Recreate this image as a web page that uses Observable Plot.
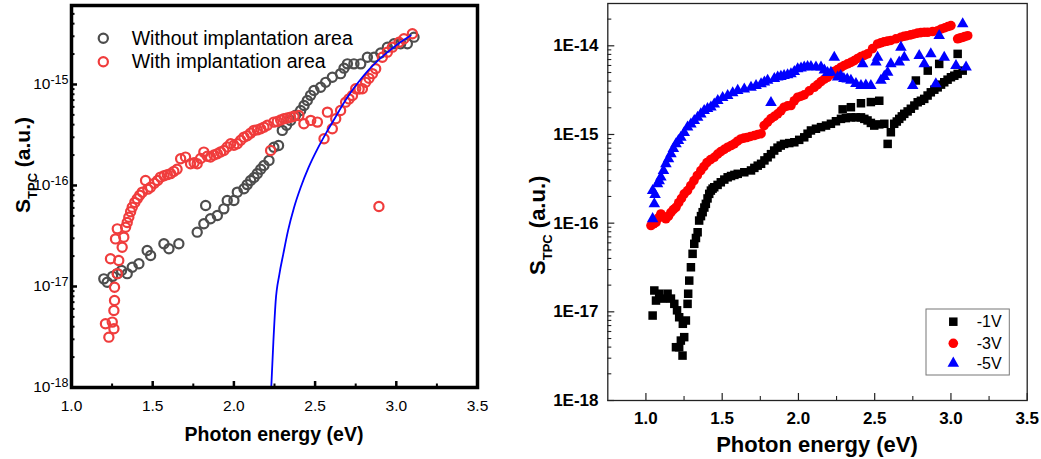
<!DOCTYPE html>
<html><head><meta charset="utf-8">
<script src="https://cdn.jsdelivr.net/npm/d3@7"></script>
<script src="https://cdn.jsdelivr.net/npm/@observablehq/plot@0.6"></script>
<style>
body{margin:0;background:#fff;}
#wrap{position:relative;width:1041px;height:459px;overflow:hidden;background:#fff;}
#left{position:absolute;left:0;top:0;}
#right{position:absolute;left:520px;top:0;}
svg text{white-space:pre;}
</style></head><body><div id="wrap"><div id="left"></div><div id="right"></div></div>
<script>
// ---------- Left panel data: [photon energy (eV), S_TPC (a.u.)] ----------
const withoutImplantation = [
[1.199,1.19e-17],[1.220,1.10e-17],[1.253,1.26e-17],[1.282,1.34e-17],[1.308,1.44e-17],[1.343,1.34e-17],
[1.374,1.55e-17],[1.415,1.68e-17],[1.466,2.27e-17],[1.487,2.03e-17],[1.569,2.65e-17],[1.600,2.36e-17],
[1.661,2.65e-17],[1.774,3.45e-17],[1.815,4.18e-17],[1.826,6.34e-17],[1.856,4.68e-17],[1.898,5.05e-17],
[1.938,5.87e-17],[1.959,7.10e-17],[2.000,7.10e-17],[2.021,8.59e-17],[2.062,9.27e-17],[2.082,1.02e-16],
[2.103,1.12e-16],[2.124,1.20e-16],[2.144,1.31e-16],[2.165,1.45e-16],[2.185,1.58e-16],[2.216,1.77e-16],
[2.246,2.39e-16],[2.275,2.49e-16],[2.298,3.51e-16],[2.324,3.95e-16],[2.349,4.41e-16],[2.380,4.95e-16],
[2.411,5.53e-16],[2.432,6.20e-16],[2.452,6.95e-16],[2.472,7.80e-16],[2.493,8.73e-16],[2.534,9.40e-16],
[2.565,1.05e-15],[2.606,1.18e-15],[2.657,1.28e-15],[2.678,1.45e-15],[2.699,1.60e-15],[2.739,1.60e-15],
[2.781,1.60e-15],[2.822,1.86e-15],[2.863,1.86e-15],[2.904,2.05e-15],[2.945,2.34e-15],[2.986,2.53e-15],
[3.027,2.53e-15],[3.068,2.53e-15],[3.109,2.94e-15]
];
const withImplantation = [
[1.209,4.28e-18],[1.230,3.15e-18],[1.251,4.44e-18],[1.261,3.81e-18],[1.261,5.78e-18],[1.265,7.26e-18],
[1.265,9.84e-18],[1.282,1.34e-17],[1.240,1.88e-17],[1.291,1.81e-17],[1.271,2.96e-17],[1.282,3.72e-17],
[1.312,2.45e-17],[1.322,3.08e-17],[1.333,3.86e-17],[1.343,4.30e-17],[1.353,4.85e-17],[1.364,5.50e-17],
[1.374,6.10e-17],[1.390,6.80e-17],[1.405,7.38e-17],[1.420,8.00e-17],[1.436,8.59e-17],[1.456,1.12e-16],
[1.470,9.20e-17],[1.487,9.62e-17],[1.510,1.05e-16],[1.530,1.12e-16],[1.548,1.21e-16],[1.570,1.25e-16],
[1.590,1.28e-16],[1.610,1.31e-16],[1.630,1.38e-16],[1.650,1.45e-16],[1.672,1.84e-16],[1.702,1.91e-16],
[1.733,1.64e-16],[1.755,1.68e-16],[1.774,1.64e-16],[1.795,1.85e-16],[1.815,2.14e-16],[1.836,1.95e-16],
[1.856,1.91e-16],[1.877,2.00e-16],[1.898,2.06e-16],[1.918,2.15e-16],[1.938,2.22e-16],[1.959,2.40e-16],
[1.980,2.59e-16],[2.000,2.50e-16],[2.021,2.59e-16],[2.042,2.80e-16],[2.062,3.01e-16],[2.082,3.10e-16],
[2.103,3.30e-16],[2.123,3.51e-16],[2.144,3.55e-16],[2.165,3.65e-16],[2.185,3.78e-16],[2.206,3.95e-16],
[2.226,2.22e-16],[2.246,4.24e-16],[2.267,4.30e-16],[2.288,4.45e-16],[2.308,4.57e-16],[2.329,4.65e-16],
[2.349,4.74e-16],[2.370,4.85e-16],[2.400,4.93e-16],[2.431,4.08e-16],[2.473,4.41e-16],[2.514,4.24e-16],
[2.555,2.90e-16],[2.576,5.32e-16],[2.606,3.64e-16],[2.627,4.57e-16],[2.657,5.53e-16],[2.688,6.68e-16],
[2.709,7.20e-16],[2.730,7.78e-16],[2.750,9.06e-16],[2.771,9.00e-16],[2.791,9.06e-16],[2.811,1.05e-15],
[2.832,1.15e-15],[2.853,1.28e-15],[2.873,1.43e-15],[2.893,6.19e-17],[2.914,1.86e-15],[2.945,2.09e-15],
[2.976,2.34e-15],[3.017,2.62e-15],[3.047,2.84e-15],[3.099,3.18e-15]
];
const fitCurve = [
[2.230,1.00e-18],[2.243,2.82e-18],[2.257,7.08e-18],[2.280,1.32e-17],[2.304,2.09e-17],[2.333,3.55e-17],
[2.370,6.03e-17],[2.411,9.55e-17],[2.460,1.51e-16],[2.514,2.29e-16],[2.565,3.24e-16],[2.616,4.47e-16],
[2.670,6.31e-16],[2.719,8.32e-16],[2.770,1.07e-15],[2.822,1.35e-15],[2.924,1.95e-15],[3.000,2.45e-15],
[3.089,3.05e-15]
];
const leftLegend = ["Without implantation area", "With implantation area"];
const leftXTicks = [1.0,1.5,2.0,2.5,3.0,3.5];
const leftXMinor = [1.25,1.75,2.25,2.75,3.25];
const leftYTicks = [1e-18,1e-17,1e-16,1e-15];
const leftYLabels = [["10","-18"],["10","-17"],["10","-16"],["10","-15"]];

// ---------- Right panel data ----------
const bias1V = [
[1.044,9.08e-18],[1.055,1.74e-17],[1.066,1.34e-17],[1.087,1.60e-17],[1.111,1.41e-17],[1.142,1.60e-17],
[1.164,1.41e-17],[1.186,1.23e-17],[1.204,1.04e-17],[1.218,8.69e-18],[1.197,3.99e-18],[1.218,3.99e-18],
[1.229,4.74e-18],[1.240,3.21e-18],[1.242,7.33e-18],[1.251,5.18e-18],[1.262,7.98e-18],[1.273,1.23e-17],
[1.277,1.60e-17],[1.284,2.25e-17],[1.295,3.18e-17],[1.306,4.51e-17],[1.317,5.85e-17],[1.328,6.80e-17],
[1.339,7.89e-17],[1.349,1.07e-16],[1.361,1.20e-16],[1.372,1.33e-16],[1.383,1.50e-16],[1.393,1.65e-16],
[1.404,1.90e-16],[1.415,2.14e-16],[1.426,2.33e-16],[1.437,2.45e-16],[1.448,2.54e-16],[1.470,2.70e-16],
[1.491,2.89e-16],[1.514,3.10e-16],[1.536,3.29e-16],[1.558,3.40e-16],[1.580,3.50e-16],[1.602,3.60e-16],
[1.645,3.75e-16],[1.689,3.93e-16],[1.711,4.20e-16],[1.733,4.45e-16],[1.755,4.67e-16],[1.777,5.10e-16],
[1.798,5.53e-16],[1.820,6.00e-16],[1.841,6.59e-16],[1.863,7.10e-16],[1.884,7.50e-16],[1.906,7.83e-16],
[1.940,8.00e-16],[1.973,8.17e-16],[2.005,8.70e-16],[2.038,9.29e-16],[2.060,1.02e-15],[2.082,1.11e-15],
[2.115,1.16e-15],[2.148,1.21e-15],[2.181,1.26e-15],[2.213,1.32e-15],[2.246,1.41e-15],[2.279,1.50e-15],
[2.311,1.53e-15],[2.344,1.56e-15],[2.377,1.56e-15],[2.410,1.56e-15],[2.432,1.50e-15],[2.453,1.44e-15],
[2.475,1.35e-15],[2.497,1.26e-15],[2.530,1.30e-15],[2.563,1.32e-15],[2.585,7.83e-16],[2.606,1.06e-15],
[2.628,1.32e-15],[2.645,1.40e-15],[2.661,1.50e-15],[2.678,1.60e-15],[2.694,1.71e-15],[2.716,1.82e-15],
[2.737,1.95e-15],[2.760,2.12e-15],[2.782,2.31e-15],[2.803,2.40e-15],[2.825,2.52e-15],[2.847,2.75e-15],
[2.868,2.99e-15],[2.891,3.20e-15],[2.913,3.40e-15],[2.935,3.65e-15],[2.956,3.88e-15],[2.978,4.15e-15],
[3.000,4.42e-15],[3.022,4.60e-15],[3.044,4.82e-15],[3.077,5.25e-15],
[2.290,1.92e-15],[2.344,2.03e-15],[2.410,2.25e-15],[2.475,2.32e-15],[2.530,2.40e-15],[2.770,4.06e-15],
[2.848,5.25e-15],[2.923,6.25e-15],[3.044,8.11e-15]
];
const bias3V = [
[1.033,9.40e-17],[1.050,9.80e-17],[1.066,1.02e-16],[1.082,1.15e-16],[1.098,1.27e-16],[1.115,1.18e-16],
[1.131,1.12e-16],[1.148,1.20e-16],[1.164,1.32e-16],[1.180,1.42e-16],[1.197,1.51e-16],[1.215,1.70e-16],
[1.233,1.90e-16],[1.251,2.14e-16],[1.273,2.33e-16],[1.294,2.65e-16],[1.315,3.02e-16],[1.337,3.45e-16],
[1.360,3.92e-16],[1.380,4.35e-16],[1.400,4.82e-16],[1.424,5.20e-16],[1.448,5.53e-16],[1.470,6.00e-16],
[1.491,6.41e-16],[1.514,6.80e-16],[1.536,7.18e-16],[1.558,7.50e-16],[1.579,7.83e-16],[1.600,8.40e-16],
[1.622,8.91e-16],[1.642,9.10e-16],[1.662,9.23e-16],[1.686,9.50e-16],[1.710,9.73e-16],[1.733,1.00e-15],
[1.755,1.02e-15],[1.775,1.26e-15],[1.798,1.38e-15],[1.820,1.51e-15],[1.842,1.60e-15],[1.864,1.71e-15],
[1.885,1.85e-15],[1.906,2.03e-15],[1.929,2.10e-15],[1.951,2.12e-15],[1.973,2.40e-15],[1.995,2.63e-15],
[2.017,2.70e-15],[2.038,2.80e-15],[2.071,3.10e-15],[2.104,3.41e-15],[2.126,3.65e-15],[2.148,3.95e-15],
[2.170,4.20e-15],[2.191,4.42e-15],[2.212,4.75e-15],[2.233,5.12e-15],[2.256,5.40e-15],[2.279,5.73e-15],
[2.300,6.00e-15],[2.322,6.25e-15],[2.344,6.50e-15],[2.366,6.81e-15],[2.388,7.20e-15],[2.410,7.55e-15],
[2.431,7.80e-15],[2.453,8.11e-15],[2.486,9.30e-15],[2.519,1.05e-14],[2.540,1.08e-14],[2.561,1.11e-14],
[2.584,1.13e-14],[2.606,1.15e-14],[2.639,1.20e-14],[2.672,1.25e-14],[2.692,1.28e-14],[2.712,1.30e-14],
[2.736,1.33e-14],[2.759,1.36e-14],[2.781,1.39e-14],[2.803,1.41e-14],[2.826,1.42e-14],[2.848,1.42e-14],
[2.880,1.45e-14],[2.913,1.48e-14],[2.937,1.55e-14],[2.961,1.60e-14],[2.980,1.65e-14],[3.000,1.69e-14],
[3.044,1.20e-14],[3.058,1.22e-14],[3.072,1.24e-14],[3.090,1.27e-14],[3.110,1.30e-14]
];
const bias5V = [
[1.044,1.12e-16],[1.055,1.65e-16],[1.044,2.33e-16],[1.060,2.10e-16],[1.076,2.77e-16],[1.087,3.00e-16],
[1.098,3.30e-16],[1.115,3.90e-16],[1.131,4.67e-16],[1.148,5.30e-16],[1.164,6.05e-16],[1.180,6.90e-16],
[1.197,7.83e-16],[1.213,8.50e-16],[1.229,9.29e-16],[1.251,1.05e-15],[1.273,1.21e-15],[1.295,1.31e-15],
[1.317,1.43e-15],[1.339,1.56e-15],[1.360,1.70e-15],[1.382,1.86e-15],[1.404,1.95e-15],[1.426,2.03e-15],
[1.448,2.20e-15],[1.471,2.41e-15],[1.503,2.60e-15],[1.536,2.74e-15],[1.569,2.95e-15],[1.602,3.13e-15],
[1.645,3.25e-15],[1.689,3.40e-15],[1.722,3.55e-15],[1.755,3.72e-15],[1.777,3.90e-15],[1.798,4.06e-15],
[1.820,2.29e-15],[1.842,4.25e-15],[1.864,4.42e-15],[1.885,4.50e-15],[1.906,4.61e-15],[1.929,4.70e-15],
[1.951,4.82e-15],[1.973,5.10e-15],[1.995,5.50e-15],[2.017,5.60e-15],[2.038,5.73e-15],[2.060,5.80e-15],
[2.082,5.82e-15],[2.115,5.75e-15],[2.148,5.73e-15],[2.170,5.30e-15],[2.191,4.99e-15],[2.213,5.02e-15],
[2.235,7.41e-15],[2.257,4.42e-15],[2.277,4.60e-15],[2.298,4.27e-15],[2.320,4.20e-15],[2.344,4.06e-15],
[2.377,3.75e-15],[2.410,3.56e-15],[2.421,6.25e-15],[2.442,3.60e-15],[2.475,3.56e-15],[2.508,6.52e-15],
[2.519,7.41e-15],[2.541,4.06e-15],[2.563,4.50e-15],[2.585,5.02e-15],[2.606,6.25e-15],[2.661,6.52e-15],
[2.672,9.62e-15],[2.694,7.41e-15],[2.749,3.56e-15],[2.792,7.76e-15],[2.825,6.25e-15],[2.868,8.09e-15],
[2.901,3.72e-15],[2.923,1.30e-14],[2.956,7.41e-15],[3.033,5.98e-15],[3.077,1.77e-14],[3.099,5.73e-15]
];
const rightLegend = ["-1V","-3V","-5V"];
const rightXTicks = [1.0,1.5,2.0,2.5,3.0,3.5];
const rightXMinor = [1.25,1.75,2.25,2.75,3.25];
const rightYTicks = [1e-18,1e-17,1e-16,1e-15,1e-14];
const rightYLabels = ["1E-18","1E-17","1E-16","1E-15","1E-14"];
const axisTitleX = "Photon energy (eV)";

// ---------- helpers ----------
const FONT = 'Arial, "Liberation Sans", sans-serif';
const rows = arr => arr.map(([E,S]) => ({E, S}));
function logMinors(lo, hi) { // minor tick positions of a log axis
  const out = [];
  for (let e = Math.floor(Math.log10(lo)); e <= Math.ceil(Math.log10(hi)); e++)
    for (let k = 2; k <= 9; k++) { const v = k * Math.pow(10, e); if (v > lo && v < hi) out.push(v); }
  return out;
}

// ---------- LEFT ----------
const LW = 520, LH = 459, LML = 71, LMR = 43, LMT = 5, LMB = 72;
const LIW = LW - LML - LMR, LIH = LH - LMT - LMB;
const LYMAX = 6.05e-15;
const leftPlot = Plot.plot({
  width: LW, height: LH, marginLeft: LML, marginRight: LMR, marginTop: LMT, marginBottom: LMB,
  style: {fontFamily: FONT, fontSize: "15.5px", color: "#000", background: "#fff", overflow: "visible"},
  x: {domain: [1.0, 3.5]},
  y: {type: "log", domain: [1e-18, LYMAX]},
  marks: [
    Plot.axisX({ticks: leftXTicks, tickSize: 0, tickPadding: 12, tickFormat: d => d.toFixed(1), label: null}),
    Plot.axisY({ticks: leftYTicks, tickSize: 0, tickPadding: 3, tickFormat: d => leftYLabels[leftYTicks.indexOf(d)].join("|"), label: null}),
    Plot.dot(rows(withoutImplantation), {x: "E", y: "S", r: 4.6, stroke: "#4d4d4d", strokeWidth: 2.2, fill: "none"}),
    Plot.dot(rows(withImplantation), {x: "E", y: "S", r: 4.6, stroke: "#f03c3c", strokeWidth: 2.2, fill: "none"}),
    Plot.line(rows(fitCurve), {x: "E", y: "S", stroke: "#0000ff", strokeWidth: 1.8, curve: "monotone-x", clip: true}),
    Plot.tickY(leftYTicks, {y: d => d, insetRight: LIW - 6, stroke: "#000", strokeWidth: 2.5}),
    Plot.tickY(logMinors(1e-18, LYMAX), {y: d => d, insetRight: LIW - 3.5, stroke: "#000", strokeWidth: 2}),
    Plot.tickX(leftXTicks, {x: d => d, insetTop: LIH - 6, stroke: "#000", strokeWidth: 2.5}),
    Plot.tickX(leftXMinor, {x: d => d, insetTop: LIH - 3.5, stroke: "#000", strokeWidth: 2}),
    Plot.frame({stroke: "#000", strokeWidth: 3.5})
  ]
});
document.getElementById("left").appendChild(leftPlot);
{
  const s = d3.select(leftPlot);
  s.selectAll('g[aria-label="x-axis tick label"]').attr("font-size", "15.5px");
  s.selectAll('g[aria-label="y-axis tick label"]').attr("font-size", "15.5px");
  s.selectAll('g[aria-label="y-axis tick label"] text').each(function() {
    const t = d3.select(this); const parts = t.text().split("|");
    t.text(null);
    t.append("tspan").attr("font-size", "15.5px").text(parts[0]);
    t.append("tspan").attr("dy", "-0.42em").attr("font-size", "12.5px").text(parts[1]);
  });
  s.append("text").attr("x", LML + LIW / 2).attr("y", 440.7).attr("text-anchor", "middle")
    .attr("font-size", "19.5px").attr("font-weight", "bold").attr("fill", "#000").text(axisTitleX);
  const yl = s.append("text").attr("transform", "translate(30,213) rotate(-90)").attr("text-anchor", "start")
    .attr("font-size", "21px").attr("font-weight", "bold").attr("fill", "#000");
  yl.append("tspan").text("S");
  yl.append("tspan").attr("font-size", "13px").attr("dy", "7").text("TPC");
  yl.append("tspan").attr("dy", "-7").text(" (a.u.)");
  const lc = ["#4d4d4d", "#f03c3c"];
  leftLegend.forEach((lab, i) => {
    s.append("circle").attr("cx", 103.3).attr("cy", 38.3 + i * 23.4).attr("r", 4.6)
      .attr("fill", "none").attr("stroke", lc[i]).attr("stroke-width", 2.2);
    s.append("text").attr("x", 131.7).attr("y", 45 + i * 23.4).attr("text-anchor", "start")
      .attr("font-size", "19.5px").attr("fill", "#000").text(lab);
  });
}

// ---------- RIGHT ----------
const RW = 521, RH = 459, RML = 87.3, RMR = 14.3, RMT = 3, RMB = 59;
const RIW = RW - RML - RMR, RIH = RH - RMT - RMB;
const RYMAX = 3.0e-14;
const C1 = "#000000", C3 = "#ff0000", C5 = "#0000ff";
const rightPlot = Plot.plot({
  width: RW, height: RH, marginLeft: RML, marginRight: RMR, marginTop: RMT, marginBottom: RMB,
  style: {fontFamily: FONT, fontSize: "17px", fontWeight: "bold", color: "#000", background: "#fff", overflow: "visible"},
  x: {domain: [0.75, 3.5]},
  y: {type: "log", domain: [1e-18, RYMAX]},
  marks: [
    Plot.axisX({ticks: rightXTicks, tickSize: 0, tickPadding: 11, tickFormat: d => d.toFixed(1), label: null}),
    Plot.axisY({ticks: rightYTicks, tickSize: 0, tickPadding: 9.3, tickFormat: d => rightYLabels[rightYTicks.indexOf(d)], label: null}),
    Plot.dot(rows(bias1V), {x: "E", y: "S", r: 4.8, symbol: "square", fill: C1}),
    Plot.dot(rows(bias3V), {x: "E", y: "S", r: 4.8, symbol: "circle", fill: C3}),
    Plot.dot(rows(bias5V), {x: "E", y: "S", r: 4.3, symbol: "triangle", fill: C5}),
    Plot.tickY(rightYTicks, {y: d => d, insetRight: RIW - 7, stroke: "#222", strokeWidth: 1.2}),
    Plot.tickY(logMinors(1e-18, RYMAX), {y: d => d, insetRight: RIW - 4, stroke: "#222", strokeWidth: 1.1}),
    Plot.tickX(rightXTicks, {x: d => d, insetTop: RIH - 7, stroke: "#222", strokeWidth: 1.2}),
    Plot.tickX(rightXMinor, {x: d => d, insetTop: RIH - 4, stroke: "#222", strokeWidth: 1.1}),
    Plot.frame({stroke: "#222", strokeWidth: 1.3})
  ]
});
document.getElementById("right").appendChild(rightPlot);
{
  const s = d3.select(rightPlot);
  s.selectAll('g[aria-label$="tick label"]').attr("font-size", "17px").attr("font-weight", "bold");
  s.append("text").attr("x", RML + RIW / 2).attr("y", 451.7).attr("text-anchor", "middle")
    .attr("font-size", "22px").attr("font-weight", "bold").attr("fill", "#000").text(axisTitleX);
  const yl = s.append("text").attr("transform", "translate(25,275) rotate(-90)").attr("text-anchor", "start")
    .attr("font-size", "22px").attr("font-weight", "bold").attr("fill", "#000");
  yl.append("tspan").text("S");
  yl.append("tspan").attr("font-size", "13px").attr("dy", "7").text("TPC");
  yl.append("tspan").attr("dy", "-7").text(" (a.u.)");
  s.append("rect").attr("x", 406).attr("y", 309).attr("width", 83.3).attr("height", 66)
    .attr("fill", "#fff").attr("stroke", "#777").attr("stroke-width", 1);
  const syms = [[d3.symbolSquare, 4.8, C1], [d3.symbolCircle, 4.8, C3], [d3.symbolTriangle, 4.3, C5]];
  const ys = [321.7, 343.3, 363.3];
  rightLegend.forEach((lab, i) => {
    const [sym, r, c] = syms[i];
    s.append("path").attr("d", d3.symbol(sym, Math.PI * r * r)())
      .attr("transform", `translate(433.3,${ys[i]})`).attr("fill", c);
    s.append("text").attr("x", 456.7).attr("y", ys[i] + 5.3).attr("text-anchor", "start").attr("font-size", "16px")
      .attr("font-weight", "normal").attr("fill", "#000").text(lab);
  });
}
</script></body></html>
